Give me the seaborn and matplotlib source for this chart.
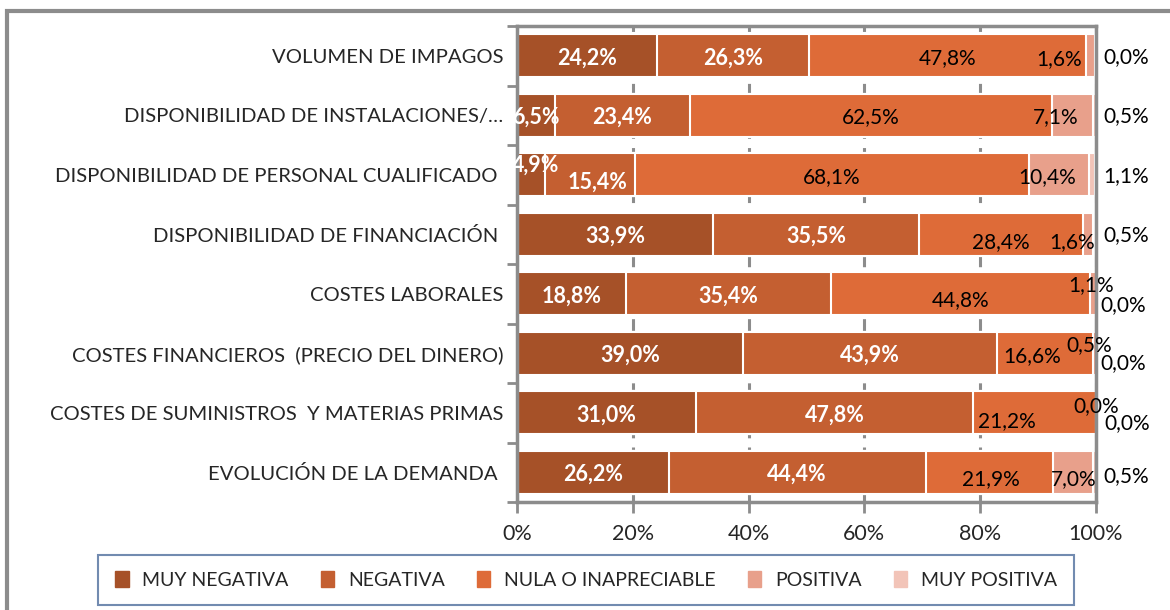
import numpy as np
import pandas as pd
import matplotlib
matplotlib.use("Agg")
import matplotlib.pyplot as plt
from matplotlib.patches import Patch, Rectangle
import seaborn as sns

# datos (porcentaje de respuestas por factor)
categories = [
    "VOLUMEN DE IMPAGOS",
    "DISPONIBILIDAD DE INSTALACIONES/…",
    "DISPONIBILIDAD DE PERSONAL CUALIFICADO ",
    "DISPONIBILIDAD DE FINANCIACIÓN ",
    "COSTES LABORALES",
    "COSTES FINANCIEROS  (PRECIO DEL DINERO)",
    "COSTES DE SUMINISTROS  Y MATERIAS PRIMAS",
    "EVOLUCIÓN DE LA DEMANDA ",
]
series_names = ["MUY NEGATIVA", "NEGATIVA", "NULA O INAPRECIABLE", "POSITIVA", "MUY POSITIVA"]
muy_negativa = [24.2, 6.5, 4.9, 33.9, 18.8, 39.0, 31.0, 26.2]
negativa = [26.3, 23.4, 15.4, 35.5, 35.4, 43.9, 47.8, 44.4]
nula = [47.8, 62.5, 68.1, 28.4, 44.8, 16.6, 21.2, 21.9]
positiva = [1.6, 7.1, 10.4, 1.6, 1.1, 0.5, 0.0, 7.0]
muy_positiva = [0.0, 0.5, 1.1, 0.5, 0.0, 0.0, 0.0, 0.5]
x_ticks = [0, 20, 40, 60, 80, 100]

colors = ["#A65128", "#C45F31", "#DE6B38", "#E8A08B", "#F2C4B8"]
GRAY = "#8c8c8c"

# desplazamientos manuales de etiquetas (px): (fila, serie) -> (dx, dy)
nudge = {
    (2, 0): (4, 12), (2, 1): (8, -5),
    (3, 2): (0, -6), (4, 2): (0, -4), (5, 2): (-13, -1), (6, 2): (-28, -6), (7, 2): (2, -5),
    (0, 3): (-32, -1), (1, 3): (-17, 0), (2, 3): (-12, 0), (3, 3): (-16, -6),
    (4, 3): (-2, 11), (5, 3): (-5, 10), (6, 3): (0, 9), (7, 3): (1, -5),
    (4, 4): (-3, -10), (5, 4): (-3, -9), (6, 4): (1, -9), (7, 4): (0, -3),
}

sns.set_style("white")
plt.rcParams["font.family"] = ["Lato", "DejaVu Sans"]

df = pd.DataFrame(
    {"factor": categories, **dict(zip(series_names,
     [muy_negativa, negativa, nula, positiva, muy_positiva]))}
)
cum = df[series_names].cumsum(axis=1)

fig = plt.figure(figsize=(11.7, 6.1), dpi=100)
ax = fig.add_axes([517 / 1170, 1 - 502 / 610, 579 / 1170, 476 / 610])

# barras apiladas: se dibuja de la suma total hacia la primera serie
for name, col in reversed(list(zip(series_names, colors))):
    sns.barplot(x=cum[name], y=df["factor"], orient="h", color=col, saturation=1, width=0.72,
                edgecolor="white", linewidth=1.5, errorbar=None, ax=ax, zorder=2)

ax.set_xlim(0, 100)
ax.set_xticks(x_ticks)
ax.set_xticklabels([f"{t}%" for t in x_ticks], fontsize=15.5)
ax.set_xlabel("")
ax.set_ylabel("")
ax.tick_params(axis="y", length=0, pad=10, labelsize=14.6)
ax.set_yticks(np.arange(-0.5, len(categories)), minor=True)
ax.tick_params(axis="y", which="minor", left=True, length=7, width=2, color=GRAY, direction="out")
ax.tick_params(axis="x", bottom=True, length=8, width=2, color=GRAY, direction="out", pad=8)
ax.set_axisbelow(True)
ax.xaxis.grid(True, color=GRAY, linestyle=(0, (4, 3)), linewidth=2.2)
for s in ax.spines.values():
    s.set_color(GRAY)
    s.set_linewidth(2.5)

# etiquetas de datos
starts = cum.shift(axis=1, fill_value=0)
for i in range(len(categories)):
    for j, name in enumerate(series_names):
        v = df.loc[i, name]
        txt = f"{v:.1f}%".replace(".", ",")
        dx, dy = nudge.get((i, j), (0, 0))
        if j == 4:
            ax.annotate(txt, xy=(100, i), xytext=(7 + dx, dy - 1), textcoords="offset pixels",
                        ha="left", va="center", fontsize=15, color="black",
                        annotation_clip=False)
            continue
        xc = starts.loc[i, name] + v / 2
        bold = j < 2
        ax.annotate(txt, xy=(xc, i), xytext=(dx, dy - 2), textcoords="offset pixels",
                    ha="center", va="center", fontsize=15.5 if bold else 15,
                    color="white" if bold else "black",
                    fontweight="bold" if bold else "normal", zorder=5,
                    annotation_clip=False)

# leyenda
handles = [Patch(facecolor=c, edgecolor=c) for c in colors]
leg = fig.legend(handles, series_names, loc="center", bbox_to_anchor=(586 / 1170, 1 - 580 / 610),
                 ncol=5, fontsize=14, frameon=True, fancybox=False, handlelength=0.7,
                 handleheight=0.9, handletextpad=0.7, columnspacing=1.65, borderpad=0.85)
leg.get_frame().set_edgecolor("#4F6E9C")
leg.get_frame().set_linewidth(1.5)

# marco exterior del gráfico
fig.patches.append(Rectangle((7 / 1170, -0.1), 1.2, 1 - 11 / 610 + 0.1, transform=fig.transFigure,
                             fill=False, edgecolor=GRAY, linewidth=3))

fig.savefig("out.png", dpi=100)
